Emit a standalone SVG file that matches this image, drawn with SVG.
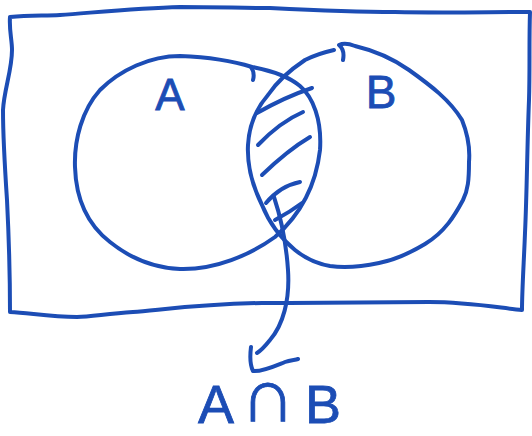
<svg xmlns="http://www.w3.org/2000/svg" width="532" height="436" viewBox="0 0 532 436">
<style>
.ink{fill:none;stroke:#1c4db5;stroke-width:4;stroke-linecap:round;stroke-linejoin:round}
.lbl{fill:#1c4db5;stroke:#1c4db5;stroke-width:0.8;font-family:"Liberation Sans","DejaVu Sans",sans-serif}
</style>
<rect width="532" height="436" fill="#ffffff"/>
<g id="universe">
<path class="ink" d="M10,17 C30,15 45,16 60,15 C100,12 140,8 180,7 C220,7 240,8 270,8 C330,11 370,12 395,12 C440,13 490,12 530,12 C529,40 530,70 529,100 C527,150 527,190 525,233 C524,260 522,290 522,310 C500,308 470,302 429,302 C380,302 320,303 262,303 C200,304 160,310 133,312 C105,314 90,317 77,317 C50,317 30,313 10,312 C10,280 9,240 7,200 C5,170 3,140 3,110 C4,90 12,70 12,50 C12,40 9,30 10,17"/>
</g>
<g id="setA">
<path class="ink" d="M252,67 C230,60 205,57 180,56 C150,56 120,70 100,90 C82,110 74,140 75,167 C76,200 88,225 110,242 C130,258 155,268 180,269 C215,270 250,255 275,237 C300,215 316,185 320,150 C322,120 313,97 300,86 C288,76 268,70 252,67"/>
<path class="ink" d="M251,67 Q255,73 253,80"/>
<text class="lbl" x="170" y="110" font-size="44" text-anchor="middle">A</text>
</g>
<g id="setB">
<path class="ink" d="M343,60 Q345,50 339,45 Q345,42 355,46 C372,50 392,58 409,70 C430,85 450,100 462,120 C468,135 470,150 469,162 C469,180 468,190 463,200 C455,215 445,232 425,244 C410,253 395,260 379,263 C360,267 345,268 330,266 C318,264 305,258 295,250 C283,240 270,225 262,205 C252,185 247,165 248,145 C249,125 255,110 268,95 C278,80 290,70 305,60 C315,55 325,52 334,50"/>
<text class="lbl" x="381" y="108" font-size="46" text-anchor="middle">B</text>
</g>
<g id="intersection">
<path class="ink" d="M257,113 Q285,97 312,88"/>
<path class="ink" d="M258,145 Q280,122 303,112"/>
<path class="ink" d="M262,175 Q288,150 310,137"/>
<path class="ink" d="M266,203 Q280,186 300,182"/>
<path class="ink" d="M275,220 Q290,212 302,203"/>
</g>
<g id="connectors">
<path class="ink" d="M274,197 C280,215 286,240 288,270 C290,300 283,325 270,340 C266,345 262,350 257,353"/>
<path class="ink" d="M251,347 C250,355 250,365 253,371 C262,372 275,366 285,362 C290,360 295,360 298,359"/>
</g>
<g id="label">
<text class="lbl" y="423" font-size="54"><tspan x="198">A</tspan><tspan x="268" y="421" font-size="76" text-anchor="middle">∩</tspan><tspan x="305" y="423">B</tspan></text>
</g>
</svg>
